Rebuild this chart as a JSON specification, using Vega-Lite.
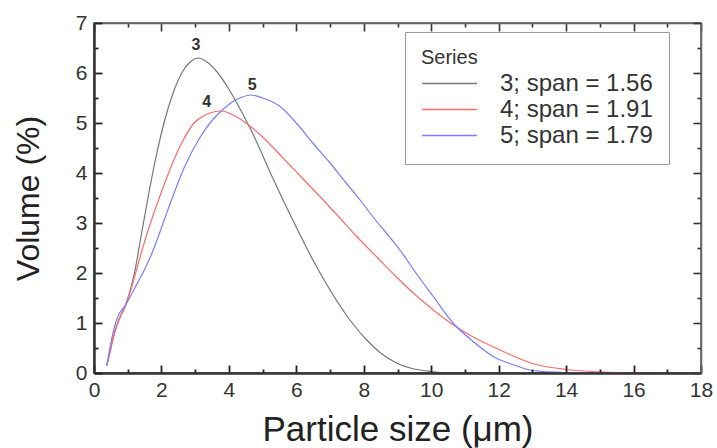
{
  "$schema": "https://vega.github.io/schema/vega-lite/v6.json",
  "autosize": {"type": "none"},
  "width": 607,
  "height": 350,
  "padding": {"left": 94, "top": 23, "right": 16, "bottom": 75},
  "background": "white",
  "config": {
    "font": "Liberation Sans",
    "view": {"stroke": "#555", "strokeWidth": 1.5}
  },
  "datasets": {
    "curves": [
      {"s": "3; span = 1.56", "x": 0.38, "y": 0.15},
      {"s": "3; span = 1.56", "x": 0.5, "y": 0.5},
      {"s": "3; span = 1.56", "x": 0.6, "y": 0.78},
      {"s": "3; span = 1.56", "x": 0.7, "y": 1.0},
      {"s": "3; span = 1.56", "x": 0.94, "y": 1.36},
      {"s": "3; span = 1.56", "x": 1.2, "y": 2.0},
      {"s": "3; span = 1.56", "x": 1.4, "y": 2.75},
      {"s": "3; span = 1.56", "x": 1.6, "y": 3.5},
      {"s": "3; span = 1.56", "x": 1.8, "y": 4.2},
      {"s": "3; span = 1.56", "x": 2.0, "y": 4.8},
      {"s": "3; span = 1.56", "x": 2.2, "y": 5.3},
      {"s": "3; span = 1.56", "x": 2.4, "y": 5.7},
      {"s": "3; span = 1.56", "x": 2.6, "y": 6.0},
      {"s": "3; span = 1.56", "x": 2.85, "y": 6.22},
      {"s": "3; span = 1.56", "x": 3.1, "y": 6.3},
      {"s": "3; span = 1.56", "x": 3.35, "y": 6.22},
      {"s": "3; span = 1.56", "x": 3.65, "y": 6.02},
      {"s": "3; span = 1.56", "x": 3.95, "y": 5.73},
      {"s": "3; span = 1.56", "x": 4.3, "y": 5.32},
      {"s": "3; span = 1.56", "x": 4.7, "y": 4.8},
      {"s": "3; span = 1.56", "x": 5.3, "y": 3.9},
      {"s": "3; span = 1.56", "x": 5.9, "y": 3.05},
      {"s": "3; span = 1.56", "x": 6.5, "y": 2.25},
      {"s": "3; span = 1.56", "x": 7.1, "y": 1.55},
      {"s": "3; span = 1.56", "x": 7.6, "y": 1.05},
      {"s": "3; span = 1.56", "x": 8.1, "y": 0.65},
      {"s": "3; span = 1.56", "x": 8.5, "y": 0.4},
      {"s": "3; span = 1.56", "x": 9.0, "y": 0.19},
      {"s": "3; span = 1.56", "x": 9.5, "y": 0.08},
      {"s": "3; span = 1.56", "x": 10.0, "y": 0.03},
      {"s": "3; span = 1.56", "x": 10.5, "y": 0.0},
      {"s": "3; span = 1.56", "x": 11.0, "y": 0.0},
      {"s": "4; span = 1.91", "x": 0.38, "y": 0.15},
      {"s": "4; span = 1.91", "x": 0.5, "y": 0.5},
      {"s": "4; span = 1.91", "x": 0.6, "y": 0.78},
      {"s": "4; span = 1.91", "x": 0.75, "y": 1.08},
      {"s": "4; span = 1.91", "x": 0.94, "y": 1.36},
      {"s": "4; span = 1.91", "x": 1.1, "y": 1.68},
      {"s": "4; span = 1.91", "x": 1.4, "y": 2.4},
      {"s": "4; span = 1.91", "x": 1.7, "y": 3.05},
      {"s": "4; span = 1.91", "x": 2.0, "y": 3.62},
      {"s": "4; span = 1.91", "x": 2.3, "y": 4.15},
      {"s": "4; span = 1.91", "x": 2.6, "y": 4.6},
      {"s": "4; span = 1.91", "x": 2.97, "y": 5.0},
      {"s": "4; span = 1.91", "x": 3.3, "y": 5.16},
      {"s": "4; span = 1.91", "x": 3.6, "y": 5.23},
      {"s": "4; span = 1.91", "x": 3.8, "y": 5.24},
      {"s": "4; span = 1.91", "x": 4.03, "y": 5.19},
      {"s": "4; span = 1.91", "x": 4.53, "y": 4.99},
      {"s": "4; span = 1.91", "x": 5.0, "y": 4.72},
      {"s": "4; span = 1.91", "x": 5.62, "y": 4.29},
      {"s": "4; span = 1.91", "x": 6.2, "y": 3.88},
      {"s": "4; span = 1.91", "x": 6.7, "y": 3.53},
      {"s": "4; span = 1.91", "x": 7.25, "y": 3.13},
      {"s": "4; span = 1.91", "x": 7.79, "y": 2.73},
      {"s": "4; span = 1.91", "x": 8.4, "y": 2.31},
      {"s": "4; span = 1.91", "x": 9.0, "y": 1.9},
      {"s": "4; span = 1.91", "x": 9.6, "y": 1.52},
      {"s": "4; span = 1.91", "x": 10.1, "y": 1.24},
      {"s": "4; span = 1.91", "x": 10.66, "y": 0.96},
      {"s": "4; span = 1.91", "x": 11.3, "y": 0.7},
      {"s": "4; span = 1.91", "x": 12.04, "y": 0.46},
      {"s": "4; span = 1.91", "x": 13.0, "y": 0.19},
      {"s": "4; span = 1.91", "x": 14.0, "y": 0.07},
      {"s": "4; span = 1.91", "x": 15.5, "y": 0.01},
      {"s": "4; span = 1.91", "x": 16.0, "y": 0.0},
      {"s": "4; span = 1.91", "x": 18.0, "y": 0.0},
      {"s": "5; span = 1.79", "x": 0.38, "y": 0.15},
      {"s": "5; span = 1.79", "x": 0.5, "y": 0.6},
      {"s": "5; span = 1.79", "x": 0.6, "y": 0.9},
      {"s": "5; span = 1.79", "x": 0.69, "y": 1.1},
      {"s": "5; span = 1.79", "x": 0.94, "y": 1.36},
      {"s": "5; span = 1.79", "x": 1.28, "y": 1.79},
      {"s": "5; span = 1.79", "x": 1.5, "y": 2.07},
      {"s": "5; span = 1.79", "x": 1.78, "y": 2.5},
      {"s": "5; span = 1.79", "x": 2.05, "y": 3.0},
      {"s": "5; span = 1.79", "x": 2.32, "y": 3.5},
      {"s": "5; span = 1.79", "x": 2.67, "y": 4.1},
      {"s": "5; span = 1.79", "x": 3.16, "y": 4.73},
      {"s": "5; span = 1.79", "x": 3.5, "y": 5.05},
      {"s": "5; span = 1.79", "x": 3.76, "y": 5.23},
      {"s": "5; span = 1.79", "x": 4.1, "y": 5.42},
      {"s": "5; span = 1.79", "x": 4.4, "y": 5.52},
      {"s": "5; span = 1.79", "x": 4.65, "y": 5.56},
      {"s": "5; span = 1.79", "x": 5.0, "y": 5.5},
      {"s": "5; span = 1.79", "x": 5.52, "y": 5.33},
      {"s": "5; span = 1.79", "x": 6.0, "y": 5.0},
      {"s": "5; span = 1.79", "x": 6.5, "y": 4.59},
      {"s": "5; span = 1.79", "x": 7.0, "y": 4.2},
      {"s": "5; span = 1.79", "x": 7.49, "y": 3.79},
      {"s": "5; span = 1.79", "x": 7.89, "y": 3.46},
      {"s": "5; span = 1.79", "x": 8.3, "y": 3.1},
      {"s": "5; span = 1.79", "x": 8.68, "y": 2.79},
      {"s": "5; span = 1.79", "x": 9.07, "y": 2.46},
      {"s": "5; span = 1.79", "x": 9.6, "y": 1.95},
      {"s": "5; span = 1.79", "x": 10.06, "y": 1.53},
      {"s": "5; span = 1.79", "x": 10.66, "y": 0.99},
      {"s": "5; span = 1.79", "x": 11.3, "y": 0.6},
      {"s": "5; span = 1.79", "x": 11.84, "y": 0.33},
      {"s": "5; span = 1.79", "x": 12.5, "y": 0.15},
      {"s": "5; span = 1.79", "x": 13.0, "y": 0.05},
      {"s": "5; span = 1.79", "x": 14.0, "y": 0.01},
      {"s": "5; span = 1.79", "x": 15.0, "y": 0.0}
    ],
    "labels": [
      {"t": "3", "x": 3.02, "y": 6.56},
      {"t": "4", "x": 3.34, "y": 5.43},
      {"t": "5", "x": 4.69, "y": 5.76}
    ]
  },
  "layer": [
    {
      "data": {"name": "curves"},
      "mark": {"type": "line", "strokeWidth": 1.2, "interpolate": "monotone"},
      "encoding": {
        "x": {
          "field": "x", "type": "quantitative",
          "scale": {"domain": [0, 18], "nice": false},
          "axis": {
            "orient": "bottom", "zindex": 1,
            "title": "Particle size (\u03bcm)",
            "titleFontSize": 35, "titleFontWeight": "normal", "titleColor": "#222", "titlePadding": 8,
            "values": [0,1,2,3,4,5,6,7,8,9,10,11,12,13,14,15,16,17,18],
            "labelExpr": "datum.value % 2 === 0 ? format(datum.value, 'd') : ''",
            "labelFlush": false, "labelOverlap": false,
            "labelFontSize": 21, "labelColor": "#333", "labelPadding": 14,
            "tickSize": {"condition": {"test": "datum.value % 2 !== 0", "value": -4}, "value": -8},
            "tickColor": "#222", "tickWidth": 1.8,
            "domainColor": "#333", "domainWidth": 2.5,
            "grid": false
          }
        },
        "y": {
          "field": "y", "type": "quantitative",
          "scale": {"domain": [0, 7], "nice": false},
          "axis": {
            "orient": "left", "zindex": 1,
            "title": "Volume (%)",
            "titleFontSize": 32, "titleFontWeight": "normal", "titleColor": "#222", "titlePadding": 30,
            "values": [0,0.5,1,1.5,2,2.5,3,3.5,4,4.5,5,5.5,6,6.5,7],
            "labelExpr": "datum.value % 1 === 0 ? format(datum.value, 'd') : ''",
            "labelFlush": false, "labelOverlap": false,
            "labelFontSize": 21, "labelColor": "#333", "labelPadding": 15,
            "tickSize": {"condition": {"test": "datum.value % 1 !== 0", "value": -4}, "value": -8},
            "tickColor": "#222", "tickWidth": 1.8,
            "domainColor": "#333", "domainWidth": 2.5,
            "grid": false
          }
        },
        "color": {
          "field": "s", "type": "nominal",
          "scale": {"domain": ["3; span = 1.56", "4; span = 1.91", "5; span = 1.79"], "range": ["#777777", "#ff6a6a", "#7a7aff"]},
          "legend": {
            "orient": "none", "legendX": 311, "legendY": 9,
            "title": "Series", "titleFontSize": 20, "titleFontWeight": "normal", "titleColor": "#333", "titlePadding": 6,
            "labelFontSize": 24, "labelColor": "#333", "labelOffset": 22,
            "symbolType": "stroke", "symbolSize": 3000, "symbolStrokeWidth": 1.5,
            "clipHeight": 19, "rowPadding": 1,
            "padding": 16, "strokeColor": "#999", "fillColor": "white",
            "labelLimit": 300
          }
        },
        "detail": {"field": "s"}
      }
    },
    {
      "data": {"name": "labels"},
      "mark": {"type": "text", "fontSize": 16, "fontWeight": "bold", "color": "#333"},
      "encoding": {
        "x": {
          "field": "x", "type": "quantitative",
          "axis": {
            "orient": "top", "zindex": 1, "title": null, "labels": false,
            "values": [0,1,2,3,4,5,6,7,8,9,10,11,12,13,14,15,16,17,18],
            "tickSize": {"condition": {"test": "datum.value % 2 !== 0", "value": -4}, "value": -8},
            "tickColor": "#333", "tickWidth": 1.6, "domainColor": "#666", "domainWidth": 1.5, "grid": false
          }
        },
        "y": {
          "field": "y", "type": "quantitative",
          "axis": {
            "orient": "right", "zindex": 1, "title": null, "labels": false,
            "values": [0,0.5,1,1.5,2,2.5,3,3.5,4,4.5,5,5.5,6,6.5,7],
            "tickSize": {"condition": {"test": "datum.value % 1 !== 0", "value": -4}, "value": -8},
            "tickColor": "#333", "tickWidth": 1.6, "domainColor": "#666", "domainWidth": 1.5, "grid": false
          }
        },
        "text": {"field": "t"}
      }
    }
  ],
  "resolve": {"axis": {"x": "independent", "y": "independent"}}
}
